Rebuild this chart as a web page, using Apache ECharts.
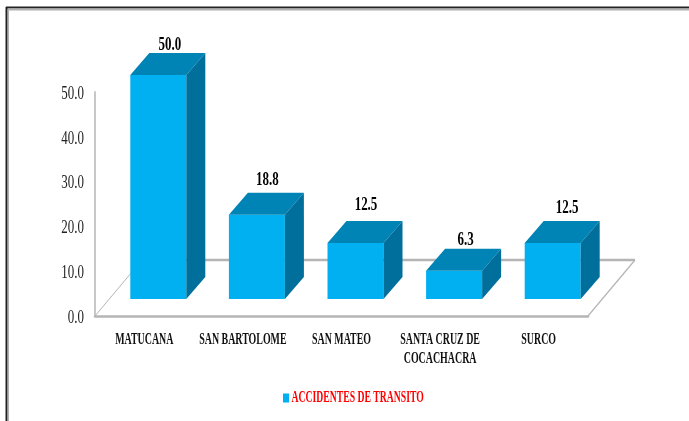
<!DOCTYPE html>
<html>
<head>
    <meta charset="utf-8">
    <title>Accidentes de transito</title>
    <style>
        html, body { margin: 0; padding: 0; background: #fff; }
        #chart { width: 689px; height: 421px; }
    </style>
</head>
<body>
<div id="chart"></div>
<script src="https://cdn.jsdelivr.net/npm/echarts@6/dist/echarts.min.js"></script>
<script>
    var categories = ['MATUCANA', 'SAN BARTOLOME', 'SAN MATEO', 'SANTA CRUZ DE\nCOCACHACRA', 'SURCO'];
    var values = [50.0, 18.8, 12.5, 6.3, 12.5];
    var seriesName = 'ACCIDENTES DE TRANSITO';

    // hand placed value labels in the original
    var labelNudgeX = [2, 1, 1, 2, 5];
    var labelNudgeY = [3, -1, -5, 3, -2];

    var font = 'Liberation Serif';
    var barWidth = 56, barShift = 14, barLift = 17, barDepthX = 19, barDepthY = 22;
    var floorDepthX = 47, floorDepthY = 56;

    var chart = echarts.init(document.getElementById('chart'));

    function renderFloor(params) {
        var c = params.coordSys;
        var left = c.x, right = c.x + c.width, y = c.y + c.height;
        return {
            type: 'group',
            children: [
                { type: 'line', shape: { x1: left, y1: y, x2: left + floorDepthX, y2: y - floorDepthY }, style: { stroke: '#b5b5b5', lineWidth: 1 } },
                { type: 'line', shape: { x1: left + floorDepthX, y1: y - floorDepthY, x2: right + floorDepthX, y2: y - floorDepthY }, style: { stroke: '#b5b5b5', lineWidth: 2.5 } },
                { type: 'line', shape: { x1: right + floorDepthX, y1: y - floorDepthY, x2: right, y2: y }, style: { stroke: '#b5b5b5', lineWidth: 1.2 } }
            ]
        };
    }

    function renderBar(params, api) {
        var i = api.value(0);
        var base = api.coord([i, 0]);
        var top = api.coord([i, api.value(1)]);
        var x1 = base[0] + barShift - barWidth / 2;
        var x2 = x1 + barWidth;
        var y1 = base[1] - barLift;
        var y2 = top[1] - barLift;
        var dx = barDepthX, dy = barDepthY;
        return {
            type: 'group',
            children: [
                { type: 'rect', shape: { x: x1, y: y2, width: barWidth, height: y1 - y2 }, style: { fill: '#00b0f0' } },
                { type: 'polygon', shape: { points: [[x1, y2], [x2, y2], [x2 + dx, y2 - dy], [x1 + dx, y2 - dy]] }, style: { fill: '#0083b5' } },
                { type: 'polygon', shape: { points: [[x2, y2], [x2 + dx, y2 - dy], [x2 + dx, y1 - dy], [x2, y1]] }, style: { fill: '#006f9b' } },
                {
                    type: 'text',
                    x: (x1 + x2 + dx) / 2 + labelNudgeX[i],
                    y: y2 - dy - 11 + labelNudgeY[i],
                    style: {
                        text: api.value(1).toFixed(1),
                        align: 'center',
                        verticalAlign: 'middle',
                        fontFamily: font,
                        fontWeight: 'bold',
                        fontSize: 18,
                        fill: '#000'
                    }
                }
            ]
        };
    }

    var option = {
        animation: false,
        backgroundColor: '#fff',
        grid: { left: 95, right: 101, top: 92, bottom: 105 },
        legend: {
            data: [seriesName],
            left: 278,
            top: 385,
            icon: 'rect',
            itemWidth: 6,
            itemHeight: 9,
            itemGap: 2,
            selectedMode: false,
            textStyle: { color: '#ff0000', fontFamily: font, fontWeight: 'bold', fontSize: 16, padding: [0, 0, 0, -4] }
        },
        xAxis: {
            type: 'category',
            data: categories,
            axisTick: { show: false },
            axisLine: { lineStyle: { color: '#b5b5b5', width: 2.5 } },
            axisLabel: {
                margin: 14,
                interval: 0,
                color: '#111',
                fontFamily: font,
                fontWeight: 'bold',
                fontSize: 16,
                lineHeight: 19
            }
        },
        yAxis: {
            type: 'value',
            min: 0,
            max: 50,
            interval: 10,
            splitLine: { show: false },
            axisTick: { show: false },
            axisLine: { show: true, lineStyle: { color: '#c8c8c8', width: 2 } },
            axisLabel: {
                margin: 11,
                color: '#222',
                fontFamily: font,
                fontSize: 18,
                verticalAlign: 'top',
                padding: [-7, 0, 0, 0],
                formatter: function (v) { return v.toFixed(1); }
            }
        },
        graphic: [
            { type: 'line', shape: { x1: 6, y1: 7.5, x2: 689, y2: 7.5 }, style: { stroke: '#222', lineWidth: 2 } },
            { type: 'line', shape: { x1: 6.5, y1: 7, x2: 6.5, y2: 421 }, style: { stroke: '#222', lineWidth: 2 } },
            { type: 'line', shape: { x1: 8, y1: 9.5, x2: 689, y2: 9.5 }, style: { stroke: '#b0b0b0', lineWidth: 2 } },
            { type: 'line', shape: { x1: 8.5, y1: 9, x2: 8.5, y2: 421 }, style: { stroke: '#b0b0b0', lineWidth: 1 } }
        ],
        series: [
            { type: 'custom', silent: true, renderItem: renderFloor, data: [0], z: 1 },
            {
                name: seriesName,
                type: 'custom',
                renderItem: renderBar,
                itemStyle: { color: '#00b0f0' },
                encode: { x: 0, y: 1 },
                data: values.map(function (v, i) { return [i, v]; }),
                z: 2
            }
        ]
    };

    chart.setOption(option);

    // reference type is a tall condensed serif, squeeze every text horizontally
    chart.getZr().storage.traverse(function (el) {
        if (el.type === 'text' || (el.style && el.style.text != null && !el.isGroup)) {
            var txt = String(el.style.text);
            el.originX = el.style.x || 0;
            el.scaleX = /^[\d.]+$/.test(txt) ? 0.72 : (txt === seriesName ? 0.605 : 0.62);
            el.markRedraw();
        }
    });
    chart.getZr().refresh();
</script>
</body>
</html>
